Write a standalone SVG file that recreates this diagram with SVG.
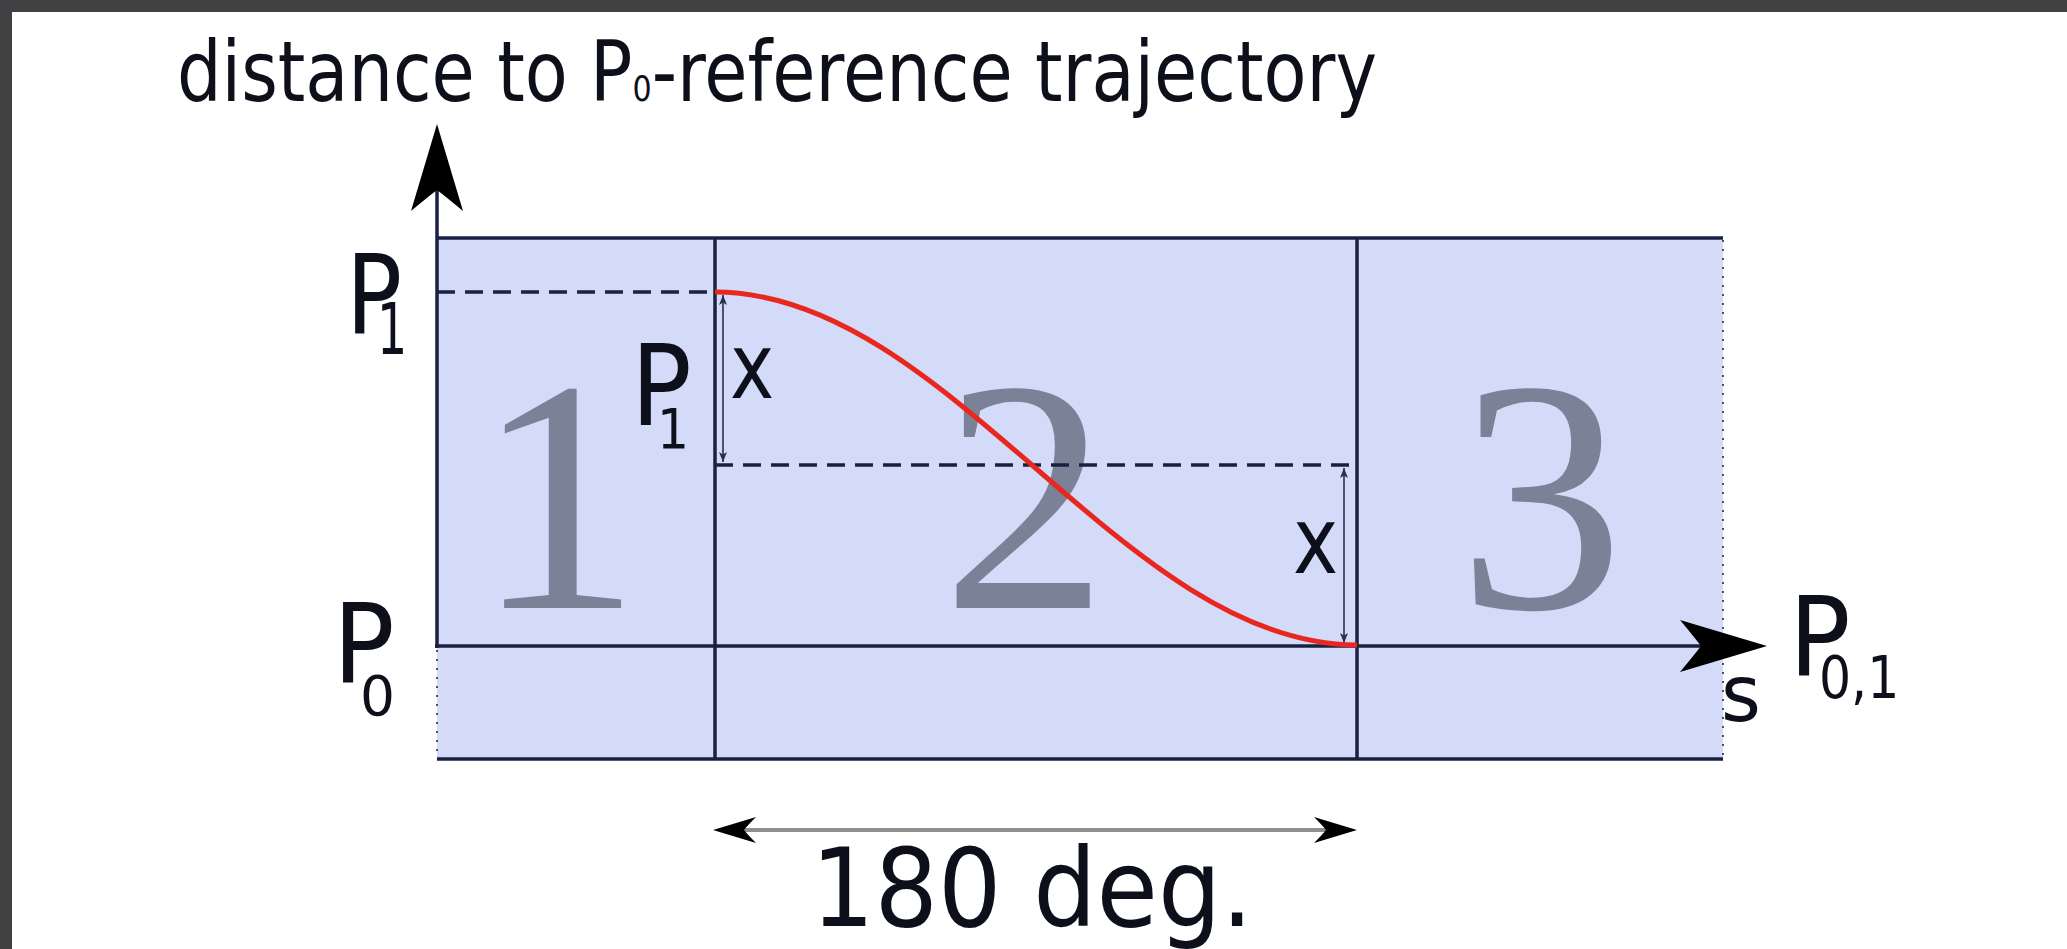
<svg xmlns="http://www.w3.org/2000/svg" xmlns:xlink="http://www.w3.org/1999/xlink" width="2067" height="949" viewBox="0 0 2067 949">
  <style>
    .sans { font-family: "DejaVu Sans", "Liberation Sans", sans-serif; fill: #0d0f1a; }
    .big { font-family: "Liberation Serif", "DejaVu Serif", serif; fill: #7b8196; font-size: 332px; text-anchor: middle; }
    .frame { stroke: #1b2040; stroke-width: 3.5; fill: none; }
    .dash { stroke: #1b2040; stroke-width: 3.5; fill: none; stroke-dasharray: 18 10; }
    .dot { stroke: #4a5070; stroke-width: 2; fill: none; stroke-dasharray: 2 7; }
    .dim { stroke: #2a2f50; stroke-width: 1.6; fill: none; marker-start: url(#dimHead); marker-end: url(#dimHead); }
    .head { fill: #000000; }
  </style>
  <defs>
    <path id="axisHead" d="M0,0 L-87,-26 Q-72,-8 -66,0 Q-72,8 -87,26 Z"/>
    <path id="smallHead" d="M0,0 L-43,-13 Q-34,-4 -31,0 Q-34,4 -43,13 Z"/>
    <marker id="dimHead" viewBox="0 0 10 8" refX="10" refY="4" markerWidth="10" markerHeight="8" markerUnits="userSpaceOnUse" orient="auto-start-reverse">
      <path d="M0,0 L10,4 L0,8 L2.5,4 Z" fill="#2a2f50"/>
    </marker>
  </defs>

  <!-- page -->
  <rect x="0" y="0" width="2067" height="949" fill="#ffffff"/>
  <rect x="0" y="0" width="2067" height="12" fill="#414144"/>
  <rect x="0" y="0" width="12" height="949" fill="#414144"/>

  <!-- regions -->
  <g id="region-1">
    <rect x="437" y="238" width="278" height="521" fill="#d3dbf8"/>
    <text class="big" x="558" y="608">1</text>
  </g>
  <g id="region-2">
    <rect x="715" y="238" width="642" height="521" fill="#d3dbf8"/>
    <text class="big" x="1025" y="608">2</text>
  </g>
  <g id="region-3">
    <rect x="1357" y="238" width="366" height="521" fill="#d3dbf8"/>
    <text class="big" x="1541" y="608">3</text>
  </g>

  <g id="connectors">
    <!-- box borders -->
    <line class="frame" x1="437" y1="238" x2="1723" y2="238"/>
    <line class="frame" x1="437" y1="759" x2="1723" y2="759"/>
    <line class="frame" x1="715" y1="238" x2="715" y2="759"/>
    <line class="frame" x1="1357" y1="238" x2="1357" y2="759"/>
    <line class="dot" x1="1723" y1="240" x2="1723" y2="758"/>
    <line class="dot" x1="437" y1="650" x2="437" y2="758"/>
    <!-- dashed levels -->
    <line class="dash" x1="437" y1="292" x2="715" y2="292"/>
    <line class="dash" x1="715" y1="465" x2="1357" y2="465"/>
    <!-- axes -->
    <line class="frame" x1="437" y1="190" x2="437" y2="648"/>
    <use href="#axisHead" class="head" transform="translate(437,124) rotate(-90)"/>
    <line class="frame" x1="435" y1="646" x2="1702" y2="646"/>
    <use href="#axisHead" class="head" transform="translate(1767,646)"/>
    <!-- dimension arrows -->
    <line class="dim" x1="723" y1="295" x2="723" y2="462"/>
    <line class="dim" x1="1344" y1="468" x2="1344" y2="643"/>
    <!-- 180 deg arrow -->
    <line x1="740" y1="830" x2="1330" y2="830" stroke="#8f8f8f" stroke-width="4"/>
    <use href="#smallHead" class="head" transform="translate(713,830) rotate(180)"/>
    <use href="#smallHead" class="head" transform="translate(1357,830)"/>
    <!-- trajectory -->
    <path d="M715,292 C948.3,292 1123.7,645 1357,645" fill="none" stroke="#e8271e" stroke-width="5"/>
  </g>

  <g id="title">
    <text class="sans" x="177" y="101" font-size="84" textLength="1200" lengthAdjust="spacingAndGlyphs">distance to P<tspan font-size="36">0</tspan>-reference trajectory</text>
  </g>

  <g id="label-p1-axis">
    <text class="sans" transform="matrix(0.84 0 0 1 346 333)" font-size="111">P</text>
    <text class="sans" transform="matrix(0.66 0 0 1 377 354)" font-size="72">1</text>
  </g>
  <g id="label-p0-axis">
    <text class="sans" transform="matrix(0.93 0 0 1 333 682)" font-size="110">P</text>
    <text class="sans" transform="matrix(1 0 0 1 360 715)" font-size="55">0</text>
  </g>
  <g id="label-p1-inner">
    <text class="sans" transform="matrix(0.9 0 0 1 631 425)" font-size="112">P</text>
    <text class="sans" transform="matrix(0.9 0 0 1 657 448)" font-size="56">1</text>
  </g>
  <g id="label-x-left">
    <text class="sans" transform="matrix(0.83 0 0 1 730 398)" font-size="90">x</text>
  </g>
  <g id="label-x-right">
    <text class="sans" transform="matrix(0.83 0 0 1 1293 573)" font-size="92">x</text>
  </g>
  <g id="label-s">
    <text class="sans" transform="matrix(0.97 0 0 1 1721 721)" font-size="79">s</text>
  </g>
  <g id="label-p01">
    <text class="sans" transform="matrix(0.93 0 0 1 1789 675)" font-size="110">P</text>
    <text class="sans" transform="matrix(0.87 0 0 1 1819 698)" font-size="58">0,1</text>
  </g>
  <g id="label-180">
    <text class="sans" x="811" y="926" font-size="108" textLength="442" lengthAdjust="spacingAndGlyphs">180 deg.</text>
  </g>
</svg>
